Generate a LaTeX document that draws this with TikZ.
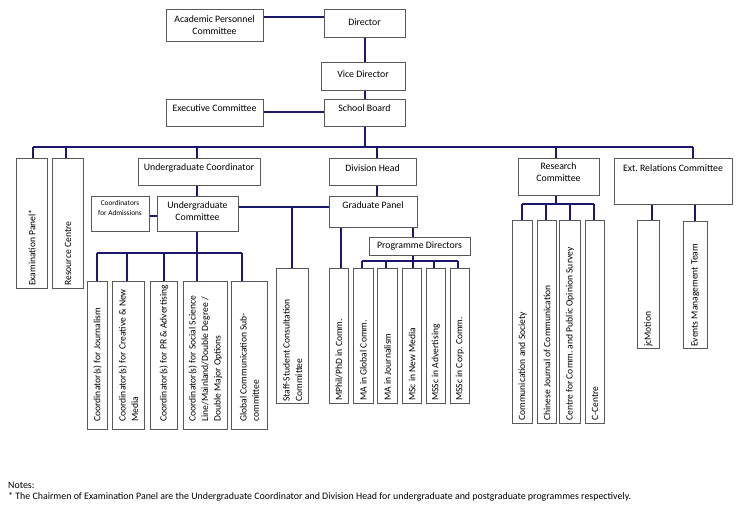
\documentclass[tikz,border=0pt]{standalone}
\usepackage{fontspec}
\setmainfont{Carlito}
\definecolor{navy}{RGB}{28,24,110}
\tikzset{
  box/.style={draw=black!65, line width=0.9pt, fill=white, inner sep=0pt},
  txt/.style={font=\fontsize{9.8}{11.5}\selectfont, align=center, inner sep=0pt},
  smalltxt/.style={font=\fontsize{7.3}{10}\selectfont, align=center, inner sep=0pt},
  vtxt/.style={font=\fontsize{9.6}{12.5}\selectfont, align=left, inner sep=0pt, rotate=90, anchor=west},
  conn/.style={draw=navy, line width=1.6pt},
  notetxt/.style={font=\fontsize{9.9}{11}\selectfont, inner sep=0pt, anchor=west},
}
% horizontal box: name, x1, y1, x2, y2, text y, text
\newcommand\HBox[7]{%
  \node[box, anchor=north west, minimum width={(#4-#2)*1pt}, minimum height={(#5-#3)*1pt}] (#1) at (#2,#3) {};
  \node[txt] (#1-t) at ({(#2+#4)/2},#6) {#7};}
\newcommand\HBoxS[7]{%
  \node[box, anchor=north west, minimum width={(#4-#2)*1pt}, minimum height={(#5-#3)*1pt}] (#1) at (#2,#3) {};
  \node[smalltxt] (#1-t) at ({(#2+#4)/2},#6) {#7};}
% vertical box: name, x1, y1, x2, y2, bottom pad, text
\newcommand\VBox[7]{%
  \node[box, anchor=north west, minimum width={(#4-#2)*1pt}, minimum height={(#5-#3)*1pt}] (#1) at (#2,#3) {};
  \node[vtxt] (#1-t) at ([yshift=#6pt]#1.south) {#7};}
\begin{document}
\frenchspacing
\begin{tikzpicture}[x=1pt,y=-1pt]
\useasboundingbox (0,0) rectangle (750,517);
% top
\HBox{apc}{166}{9}{263}{41}{25}{Academic Personnel\\Committee}
\HBox{dir}{324}{9}{405}{37}{22}{Director}
\HBox{vd}{321}{62}{405}{90}{74}{Vice Director}
\HBox{ec}{166}{99}{263}{126}{108}{Executive Committee}
\HBox{sb}{324}{99}{405}{126}{108}{School Board}
% second level
\VBox{exam}{16}{158}{47}{288}{3}{Examination Panel*}
\VBox{res}{52}{158}{83}{288}{3}{Resource Centre}
\HBox{ugc}{138}{158}{260}{185}{168}{Undergraduate Coordinator}
\HBox{div}{329}{158}{416}{185}{168}{Division Head}
\HBox{rc}{518}{158}{599}{195}{172}{Research\\Committee}
\HBox{ext}{614}{158}{732}{204}{168}{Ext. Relations Committee}
% third level
\HBoxS{adm}{91}{196}{149}{231}{208}{Coordinators\\for Admissions}
\HBox{ugcom}{157}{196}{238}{231}{211}{Undergraduate\\Committee}
\HBox{gp}{329}{196}{417}{227}{205}{Graduate Panel}
\HBox{pd}{369}{237}{470}{255}{246}{Programme Directors}
% undergraduate coordinators
\VBox{cj}{87}{281}{107}{429}{8}{Coordinator(s) for Journalism}
\VBox{ccn}{112}{281}{144}{429}{8}{Coordinator(s) for Creative \& New\\Media}
\VBox{cpr}{150}{281}{177}{429}{8}{Coordinator(s) for PR \& Advertising}
\VBox{css}{183}{281}{227}{429}{8}{Coordinator(s) for Social Science\\Line/Mainland/Double Degree /\\Double Major Options}
\VBox{gcs}{231}{281}{267}{429}{8}{Global Communication Sub-\\committee}
\VBox{ss}{276}{268}{308}{403}{2}{Staff-Student Consultation\\Committee}
% graduate programmes
\VBox{mp}{329}{268}{348}{403}{3}{MPhil/PhD in Comm.}
\VBox{mag}{353}{268}{373}{403}{3}{MA in Global Comm.}
\VBox{maj}{377}{268}{397}{403}{3}{MA in Journalism}
\VBox{msn}{402}{268}{421}{403}{3}{MSc in New Media}
\VBox{msa}{426}{268}{445}{403}{3}{MSSc in Advertising}
\VBox{msc}{450}{268}{469}{403}{3}{MSSc in Corp. Comm.}
% research
\VBox{cs}{512}{220}{532}{423}{3}{Communication and Society}
\VBox{cjc}{537}{220}{556}{423}{3}{Chinese Journal of Communication}
\VBox{ccp}{559}{220}{580}{423}{3}{Centre for Comm. and Public Opinion Survey}
\VBox{cc}{585}{220}{604}{423}{3}{C-Centre}
% ext relations
\VBox{jc}{637}{220}{659}{348}{2}{jcMotion}
\VBox{emt}{683}{221}{707}{348}{2}{Events Management Team}
% notes
\node[notetxt] (n1) at (8,485) {Notes:};
\node[notetxt] (n2) at (8,497) {* The Chairmen of Examination Panel are the Undergraduate Coordinator and Division Head for undergraduate and postgraduate programmes respectively.};
% ---------- connectors ----------
\draw[conn] ([yshift=-8pt]apc.north east) -- ([yshift=-8pt]dir.north west);
\draw[conn] (dir.south) -- (dir.south |- vd.north);
\draw[conn] (dir.south |- vd.south) -- (dir.south |- sb.north);
\draw[conn] ([yshift=-13pt]ec.north east) -- ([yshift=-13pt]sb.north west);
% main bus
\coordinate (b0) at (364,147);
\coordinate (bExam) at (33,147);
\coordinate (bRes) at (66,147);
\coordinate (bUgc) at (197,147);
\coordinate (bDiv) at (377,147);
\coordinate (bRc) at (556,147);
\coordinate (bExt) at (693,147);
\draw[conn] (sb.south) -- (sb.south |- b0);
\draw[conn] (bExam) -- (bExt);
\draw[conn] (bExam) -- (bExam |- exam.north);
\draw[conn] (bRes) -- (bRes |- res.north);
\draw[conn] (bUgc) -- (bUgc |- ugc.north);
\draw[conn] (bDiv) -- (bDiv |- div.north);
\draw[conn] (bRc) -- (bRc |- rc.north);
\draw[conn] (bExt) -- (bExt |- ext.north);
% undergraduate side
\coordinate (xUg) at (197,0);
\draw[conn] (xUg |- ugc.south) -- (xUg |- ugcom.north);
\draw[conn] ([yshift=-2pt]adm.east) -- ([yshift=-2pt]ugcom.west);
\draw[conn] ([yshift=-11pt]ugcom.north east) -- ([yshift=-11pt]gp.north west);
\coordinate (jSs) at (292,207);
\draw[conn] (jSs) -- (jSs |- ss.north);
\coordinate (bU) at (197,253);
\coordinate (bU1) at (97,253);
\coordinate (bU2) at (127,253);
\coordinate (bU3) at (164,253);
\coordinate (bU5) at (242,253);
\draw[conn] (xUg |- ugcom.south) -- (bU);
\draw[conn] (bU1) -- (bU5);
\draw[conn] (bU1) -- (bU1 |- cj.north);
\draw[conn] (bU2) -- (bU2 |- ccn.north);
\draw[conn] (bU3) -- (bU3 |- cpr.north);
\draw[conn] (bU) -- (bU |- css.north);
\draw[conn] (bU5) -- (bU5 |- gcs.north);
% graduate side
\draw[conn] (bDiv |- div.south) -- (bDiv |- gp.north);
\coordinate (xMp) at (341,0);
\coordinate (xPd) at (413,0);
\draw[conn] (xMp |- gp.south) -- (xMp |- mp.north);
\draw[conn] (xPd |- gp.south) -- (xPd |- pd.north);
\coordinate (bP) at (413,261);
\coordinate (bP1) at (362,261);
\coordinate (bP2) at (386,261);
\coordinate (bP4) at (434,261);
\coordinate (bP5) at (458,261);
\draw[conn] (xPd |- pd.south) -- (bP);
\draw[conn] (bP1) -- (bP5);
\draw[conn] (bP1) -- (bP1 |- mag.north);
\draw[conn] (bP2) -- (bP2 |- maj.north);
\draw[conn] (bP) -- (bP |- msn.north);
\draw[conn] (bP4) -- (bP4 |- msa.north);
\draw[conn] (bP5) -- (bP5 |- msc.north);
% research
\coordinate (bR) at (556,204);
\coordinate (bR1) at (522,204);
\coordinate (bR2) at (546,204);
\coordinate (bR3) at (570,204);
\coordinate (bR4) at (594,204);
\draw[conn] (bR |- rc.south) -- (bR);
\draw[conn] (bR1) -- (bR4);
\draw[conn] (bR1) -- (bR1 |- cs.north);
\draw[conn] (bR2) -- (bR2 |- cjc.north);
\draw[conn] (bR3) -- (bR3 |- ccp.north);
\draw[conn] (bR4) -- (bR4 |- cc.north);
% ext relations
\coordinate (xJc) at (652,0);
\coordinate (xEm) at (695,0);
\draw[conn] (xJc |- ext.south) -- (xJc |- jc.north);
\draw[conn] (xEm |- ext.south) -- (xEm |- emt.north);
\end{tikzpicture}
\end{document}
